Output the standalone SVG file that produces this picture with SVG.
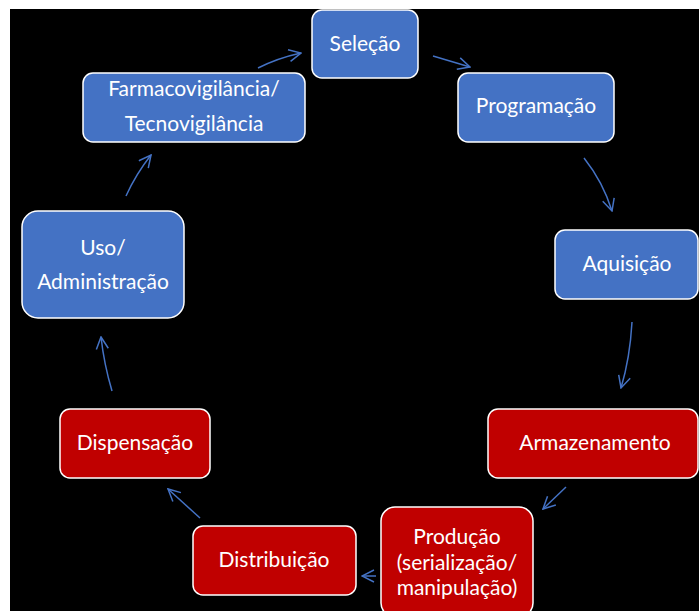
<svg xmlns="http://www.w3.org/2000/svg" width="699" height="611" viewBox="0 0 699 611">
<defs>
<marker id="ah" viewBox="0 0 14 14" refX="13" refY="7" markerWidth="14" markerHeight="14" markerUnits="userSpaceOnUse" orient="auto">
<path d="M1,1 L13,7 L1,13" fill="none" stroke="#4472C4" stroke-width="1.5"/>
</marker>
<style>
.b rect{fill:#4472C4;stroke:#fff;stroke-width:1.5}
.r rect{fill:#C00000;stroke:#fff;stroke-width:1.5}
text{font-family:Lato,"Open Sans","Liberation Sans",sans-serif;font-size:21px;fill:#fff;text-anchor:middle}
.c path{fill:none;stroke:#4472C4;stroke-width:1.5;marker-end:url(#ah)}
</style>
</defs>
<rect x="0" y="0" width="699" height="611" fill="#fff"/>
<rect x="10" y="9" width="689" height="602" fill="#000"/>
<g class="c" id="connectors">
<path d="M433,56 L470,67"/>
<path d="M258,68 Q278,58 301,53"/>
<path d="M584,158 Q603,182 612,211"/>
<path d="M632,322 Q630,358 621,388"/>
<path d="M566,487 L543,509"/>
<path d="M376,576 L362,576"/>
<path d="M200,518 L168,489"/>
<path d="M112,391 Q104,364 101,337"/>
<path d="M126,196 Q136,174 151,155"/>
</g>
<g id="selecao" class="b"><rect x="312" y="10" width="106" height="68" rx="10"/><text x="365" y="51">Seleção</text></g>
<g id="programacao" class="b"><rect x="458" y="73" width="156" height="69" rx="10"/><text x="536" y="113">Programação</text></g>
<g id="aquisicao" class="b"><rect x="555" y="230" width="143" height="69" rx="10"/><text x="627" y="271">Aquisição</text></g>
<g id="armazenamento" class="r"><rect x="488" y="409" width="210" height="69" rx="10"/><text x="595" y="450">Armazenamento</text></g>
<g id="producao" class="r"><rect x="381" y="507" width="152" height="110" rx="14"/><text x="457" y="544">Produção</text><text x="457" y="570">(serialização/</text><text x="457" y="595">manipulação)</text></g>
<g id="distribuicao" class="r"><rect x="193" y="526" width="163" height="69" rx="10"/><text x="274" y="567">Distribuição</text></g>
<g id="dispensacao" class="r"><rect x="60" y="409" width="150" height="69" rx="10"/><text x="135" y="450">Dispensação</text></g>
<g id="uso" class="b"><rect x="22" y="211" width="162" height="107" rx="16"/><text x="103" y="255">Uso/</text><text x="103" y="289">Administração</text></g>
<g id="farmaco" class="b"><rect x="83" y="73" width="222" height="69" rx="10"/><text x="194" y="96">Farmacovigilância/</text><text x="194" y="131">Tecnovigilância</text></g>
</svg>
